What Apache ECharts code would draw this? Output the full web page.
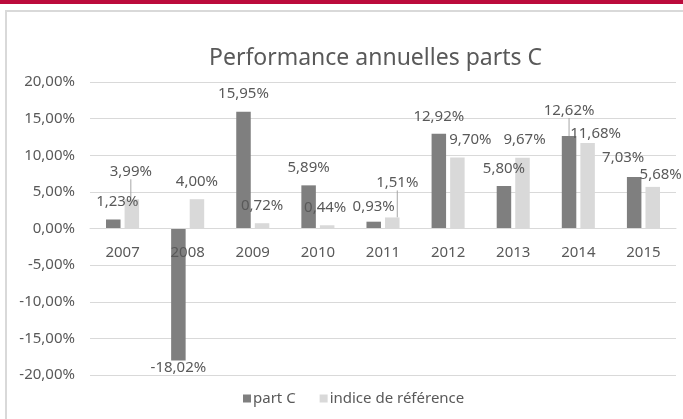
<!DOCTYPE html>
<html>
<head>
<meta charset="utf-8">
<script src="https://cdn.jsdelivr.net/npm/echarts@6/dist/echarts.min.js"></script>
<style>
  html, body { margin: 0; padding: 0; background: #fff; }
  #main { width: 683px; height: 419px; }
</style>
</head>
<body>
<div id="main"></div>
<script>
// data
var years = ['2007', '2008', '2009', '2010', '2011', '2012', '2013', '2014', '2015'];
var partC = [1.23, -18.02, 15.95, 5.89, 0.93, 12.92, 5.80, 12.62, 7.03];
var indice = [3.99, 4.00, 0.72, 0.44, 1.51, 9.70, 9.67, 11.68, 5.68];
var yTicks = [-20, -15, -10, -5, 0, 5, 10, 15, 20];

// label nudges (Excel moved some labels by hand)
var nudgeC = [[4, 0], [0, -10], [0, 0], [0, 0], [0, 3], [0, 0], [0, 0], [0, -8], [-11, -2]];
var nudgeI = [[-1, -10], [0, 0], [0, 0], [-2, 0], [5, -17], [13, 0], [2, 0], [8, 8], [8, 5]];
var leaderC = [false, false, false, false, false, false, false, true, false];
var leaderI = [true, false, false, false, true, false, false, false, false];

var txt = '#595959';
var font = 'Noto Sans';

function pct(v) {
    return v.toFixed(2).replace('.', ',') + '%';
}

function buildData(values, leader) {
    var out = [];
    for (var i = 0; i < values.length; i++) {
        out.push({
            value: values[i],
            label: { position: values[i] < 0 ? 'bottom' : 'top' },
            labelLine: { show: leader[i] }
        });
    }
    return out;
}

function barSeries(name, values, color, nudge, leader) {
    return {
        name: name,
        type: 'bar',
        barWidth: 14.5,
        barGap: '28%',
        itemStyle: { color: color },
        label: {
            show: true,
            distance: 10,
            color: txt,
            fontFamily: font,
            fontSize: 15,
            formatter: function (p) { return pct(p.value); }
        },
        labelLine: {
            show: false,
            lineStyle: { color: '#a6a6a6', width: 1 }
        },
        labelLayout: function (p) {
            var n = nudge[p.dataIndex];
            return { dx: n[0], dy: n[1] };
        },
        data: buildData(values, leader)
    };
}

var mychart = echarts.init(document.getElementById('main'));
var option = {
    animation: false,
    backgroundColor: '#fff',
    graphic: [
        { type: 'rect', shape: { x: 0, y: 0, width: 683, height: 4 }, style: { fill: '#bb0a3c' } },
        { type: 'line', shape: { x1: 5, y1: 11, x2: 683, y2: 11 }, style: { stroke: '#d9d9d9', lineWidth: 2 } },
        { type: 'line', shape: { x1: 6, y1: 10, x2: 6, y2: 419 }, style: { stroke: '#d9d9d9', lineWidth: 2 } }
    ],
    title: {
        text: 'Performance annuelles parts C',
        left: 204,
        top: 42,
        textStyle: { color: txt, fontFamily: font, fontSize: 23, fontWeight: 'normal' }
    },
    legend: {
        left: 238,
        top: 386,
        itemWidth: 8,
        itemHeight: 8,
        itemGap: 24,
        icon: 'rect',
        textStyle: { color: txt, fontFamily: font, fontSize: 15, padding: [0, 0, 0, -3] },
        data: ['part C', 'indice de référence']
    },
    grid: { left: 90, right: 7, top: 82, bottom: 44 },
    xAxis: {
        type: 'category',
        data: years,
        offset: -146.7,
        z: 5,
        axisTick: { show: false },
        axisLine: { onZero: false, lineStyle: { color: '#d9d9d9' } },
        axisLabel: { color: txt, fontFamily: font, fontSize: 15, margin: 17 }
    },
    yAxis: {
        type: 'value',
        min: yTicks[0],
        max: yTicks[yTicks.length - 1],
        interval: 5,
        axisLine: { show: false },
        axisTick: { show: false },
        splitLine: { lineStyle: { color: '#d9d9d9' } },
        axisLabel: { color: txt, fontFamily: font, fontSize: 15, margin: 15, formatter: pct }
    },
    series: [
        barSeries('part C', partC, '#7f7f7f', nudgeC, leaderC),
        barSeries('indice de référence', indice, '#d9d9d9', nudgeI, leaderI)
    ]
};
mychart.setOption(option);
</script>
</body>
</html>
